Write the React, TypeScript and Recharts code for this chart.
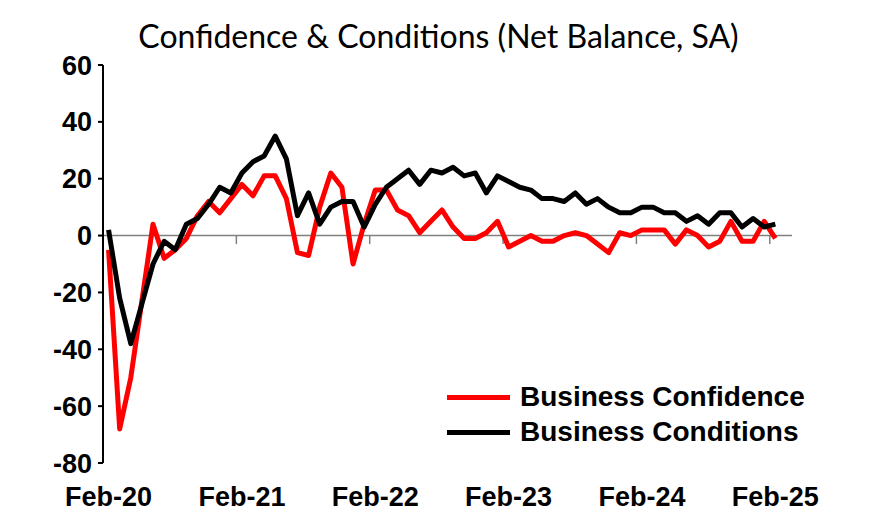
import React from "react";
import { LineChart, Line, XAxis, YAxis, ReferenceLine } from "recharts";

// NAB-style monthly survey, Feb-20 .. Feb-25 (one empty slot after the last month)
const confidence = [
  -5, -68, -50, -23, 4, -8, -5, -1, 7, 12, 8, 13,
  18, 14, 21, 21, 13, -6, -7, 10, 22, 17, -10, 4,
  16, 16, 9, 7, 1, 5, 9, 3, -1, -1, 1, 5,
  -4, -2, 0, -2, -2, 0, 1, 0, -3, -6, 1, 0,
  2, 2, 2, -3, 2, 0, -4, -2, 5, -2, -2, 5,
  -1,
];

const conditions = [
  2, -22, -38, -24, -10, -2, -5, 4, 6, 11, 17, 15,
  22, 26, 28, 35, 27, 7, 15, 4, 10, 12, 12, 3,
  11, 17, 20, 23, 18, 23, 22, 24, 21, 22, 15, 21,
  19, 17, 16, 13, 13, 12, 15, 11, 13, 10, 8, 8,
  10, 10, 8, 8, 5, 7, 4, 8, 8, 3, 6, 3,
  4,
];

const tickLabels = ["Feb-20", "Feb-21", "Feb-22", "Feb-23", "Feb-24", "Feb-25"];
const tickIndex = [0, 12, 24, 36, 48, 60];
const yearBreaks = [11.5, 23.5, 35.5, 47.5, 59.5];
const yTicks = [-80, -60, -40, -20, 0, 20, 40, 60];

const data = confidence.map((c, i) => ({ i, confidence: c, conditions: conditions[i] }));

const fontFamily = "'Liberation Sans', Arial, sans-serif";
const axisFont = { fontFamily, fontWeight: 700, fontSize: 27, fill: "#000" };

const legendItems = [
  { name: "Business Confidence", color: "#ff0000" },
  { name: "Business Conditions", color: "#000000" },
];

function ChartLegend() {
  return (
    <div style={{ position: "absolute", left: 447, top: 382, display: "flex", flexDirection: "column", gap: 5 }}>
      {legendItems.map((it) => (
        <div key={it.name} style={{ display: "flex", alignItems: "center", height: 30 }}>
          <div style={{ width: 63, height: 5, background: it.color, marginRight: 10 }} />
          <span style={{ fontFamily, fontWeight: 700, fontSize: 28, color: "#000", whiteSpace: "nowrap" }}>
            {it.name}
          </span>
        </div>
      ))}
    </div>
  );
}

export default function App() {
  return (
    <div style={{ position: "absolute", left: 0, top: 0, width: 869, height: 530, background: "#fff" }}>
      <div
        style={{
          position: "absolute",
          top: 16,
          left: 8,
          width: 861,
          textAlign: "center",
          fontFamily: "Lato, 'Open Sans', sans-serif",
          fontSize: 32,
          lineHeight: "40px",
          color: "#000",
          whiteSpace: "nowrap",
        }}
      >
        Confidence &amp; Conditions (Net Balance, SA)
      </div>
      <LineChart
        width={869}
        height={530}
        data={data}
        margin={{ top: 65, right: 77, bottom: 0, left: 0 }}
      >
        <XAxis
          type="number"
          dataKey="i"
          domain={[-0.5, 61.5]}
          ticks={tickIndex}
          tickFormatter={(v) => tickLabels[tickIndex.indexOf(v)] ?? ""}
          axisLine={false}
          tickLine={false}
          tickSize={0}
          tickMargin={24}
          height={67}
          tick={axisFont}
          interval={0}
        />
        <YAxis
          type="number"
          domain={[-80, 60]}
          ticks={yTicks}
          width={103}
          axisLine={{ stroke: "#000", strokeWidth: 2 }}
          tickLine={{ stroke: "#000", strokeWidth: 2 }}
          tickSize={5}
          tickMargin={6}
          tick={axisFont}
          interval={0}
        />
        <ReferenceLine y={0} stroke="#808080" strokeWidth={1.5} />
        {yearBreaks.map((b) => (
          <ReferenceLine
            key={b}
            segment={[
              { x: b, y: 0 },
              { x: b, y: -3 },
            ]}
            stroke="#808080"
            strokeWidth={1.5}
          />
        ))}
        <Line
          type="linear"
          dataKey="confidence"
          stroke="#ff0000"
          strokeWidth={5}
          dot={false}
          strokeLinejoin="round"
          isAnimationActive={false}
        />
        <Line
          type="linear"
          dataKey="conditions"
          stroke="#000000"
          strokeWidth={5}
          dot={false}
          strokeLinejoin="round"
          isAnimationActive={false}
        />
      </LineChart>
      <ChartLegend />
    </div>
  );
}
